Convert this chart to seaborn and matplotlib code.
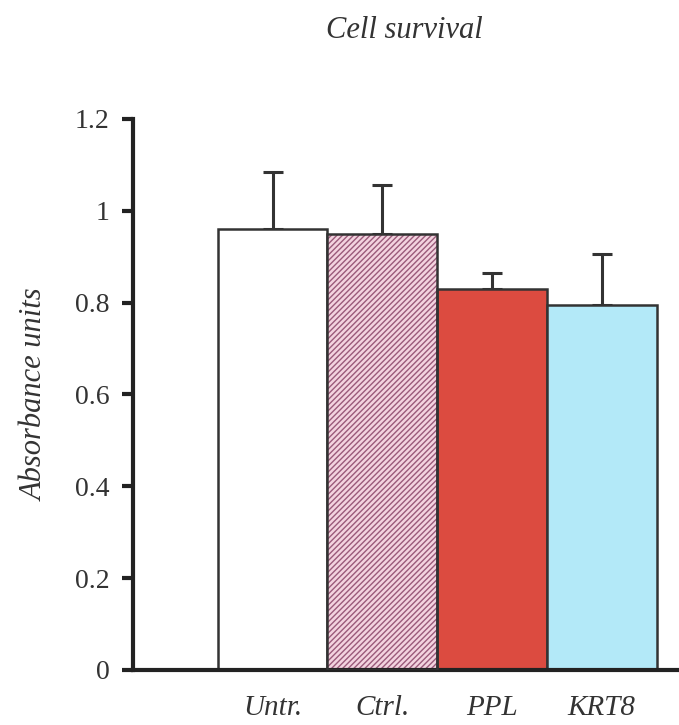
import matplotlib
matplotlib.use("Agg")
import matplotlib.pyplot as plt
import matplotlib.patches as mpatches
import seaborn as sns
import pandas as pd

sns.set_style("white")
plt.rcParams['font.family'] = 'serif'
plt.rcParams['font.serif'] = ['Liberation Serif', 'DejaVu Serif']

# values
groups = ['Untr.', 'Ctrl.', 'PPL', 'KRT8']
means = [0.96, 0.95, 0.83, 0.795]
sd_upper = [0.125, 0.105, 0.035, 0.11]
bar_colors = ['#ffffff', '#f3d3df', '#dc4b40', '#b3e9f8']
hatch_color = '#9a5a7a'
line_col = '#333333'

df = pd.DataFrame({'group': groups, 'value': means})

fig = plt.figure(figsize=(6.79, 7.25), dpi=100)
ax = fig.add_axes([0.196, 0.076, 0.81, 0.76])

sns.barplot(data=df, x='group', y='value', hue='group', palette=bar_colors,
            saturation=1, width=1.0, edgecolor=line_col, linewidth=1.8, legend=False,
            errorbar=None, ax=ax, zorder=2)

# hatch on the control bar, outline redrawn on top
ctrl = ax.patches[1]
ctrl.set_edgecolor(hatch_color)
ctrl.set_hatch('//////')
ctrl.set_linewidth(0)
outline = mpatches.Rectangle((ctrl.get_x(), ctrl.get_y()), ctrl.get_width(), ctrl.get_height(),
                             fill=False, edgecolor=line_col, linewidth=1.8, zorder=3)
ax.add_patch(outline)

# upper-only error bars
ax.errorbar(range(len(groups)), means, yerr=[[0] * len(groups), sd_upper], fmt='none',
            ecolor=line_col, elinewidth=2.2, capsize=7, capthick=2.2, zorder=1)

ax.set_ylim(0, 1.2)
ax.set_xlim(-1.27, 3.74)
ax.set_yticks([0, 0.2, 0.4, 0.6, 0.8, 1.0, 1.2])
ax.set_yticklabels(['0', '0.2', '0.4', '0.6', '0.8', '1', '1.2'])

sns.despine(ax=ax, top=True, right=True)
for s in ['left', 'bottom']:
    ax.spines[s].set_linewidth(3)
    ax.spines[s].set_color('#222222')

ax.tick_params(axis='y', direction='out', length=8, width=3, color='#222222',
               labelsize=20, labelcolor='#333333', pad=9, left=True)
ax.tick_params(axis='x', length=0, labelsize=21, labelcolor='#333333', pad=18)
for lab in ax.get_xticklabels():
    lab.set_fontstyle('italic')

ax.set_xlabel('')
ax.set_ylabel('Absorbance units', fontsize=22, fontstyle='italic', color='#333333', labelpad=18)
fig.text(0.596, 0.958, 'Cell survival', fontsize=22, fontstyle='italic', color='#333333',
         ha='center', va='center')

fig.savefig('out.png', dpi=100)
